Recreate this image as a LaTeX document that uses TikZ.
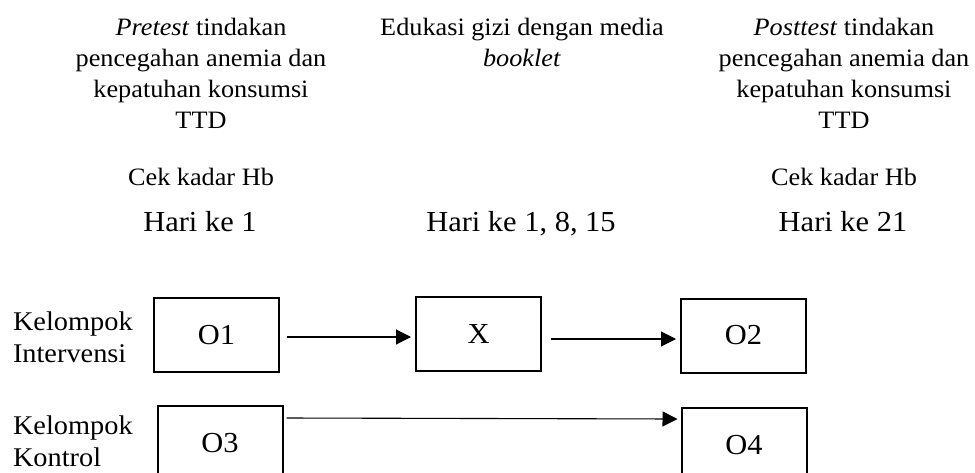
\documentclass[tikz,border=0pt]{standalone}
\usepackage{fontspec}
\setmainfont{Liberation Serif}[FakeStretch=1.05]
\usetikzlibrary{arrows.meta,calc}

\begin{document}
\begin{tikzpicture}[x=1pt,y=-1pt,
  every node/.style={inner sep=0pt, outer sep=0pt},
  head/.style={font=\fontsize{25}{31}\selectfont, align=center, anchor=base},
  day/.style={font=\fontsize{29}{34}\selectfont, anchor=base},
  group/.style={font=\fontsize{27}{32}\selectfont, align=left, anchor=base west},
  obs/.style={draw, line width=2pt, minimum width=125pt, minimum height=74pt,
              font=\fontsize{29}{34}\selectfont},
  flow/.style={line width=1.1pt, -{Triangle[length=15pt,width=15pt]}}]
\useasboundingbox (0,0) rectangle (975,472);
\clip (0,0) rectangle (975,472);

% column headings (base anchor sits on the last line)
\node[head] (pre)  at (201,128) {\textit{Pretest} tindakan\\pencegahan anemia dan\\kepatuhan konsumsi\\TTD};
\node[head] (edu)  at (522,66) {Edukasi gizi dengan media\\\textit{booklet}};
\node[head] (post) at (844,128) {\textit{Posttest} tindakan\\pencegahan anemia dan\\kepatuhan konsumsi\\TTD};

\node[head] (hb1) at (201,185) {Cek kadar Hb};
\node[head] (hb2) at (844,185) {Cek kadar Hb};

\node[day] (d1)  at (200,231) {Hari ke 1};
\node[day] (d2)  at (521,231) {Hari ke 1, 8, 15};
\node[day] (d3)  at (843,231) {Hari ke 21};

% group labels
\node[group] (gi) at (13,362) {Kelompok\\Intervensi};
\node[group] (gk) at (13,466) {Kelompok\\Kontrol};

% observation boxes
\node[obs] (O1) at (216.5,335) {O1};
\node[obs] (X)  at (478.5,333.5) {X};
\node[obs] (O2) at (743.5,335.5) {O2};
\node[obs] (O3) at (220,443) {O3};
\node[obs] (O4) at (744,445) {O4};

% flow arrows
\draw[flow] ($(O1.east)+(8,2)$) -- ($(X.west)+(-5,3.5)$);
\draw[flow] ($(X.east)+(10,5.5)$) -- ($(O2.west)+(-5,3.5)$);
\draw[flow] ($(O3.east)+(4,-25)$) -- ($(O4.west)+(-4,-26)$);
\end{tikzpicture}
\end{document}
